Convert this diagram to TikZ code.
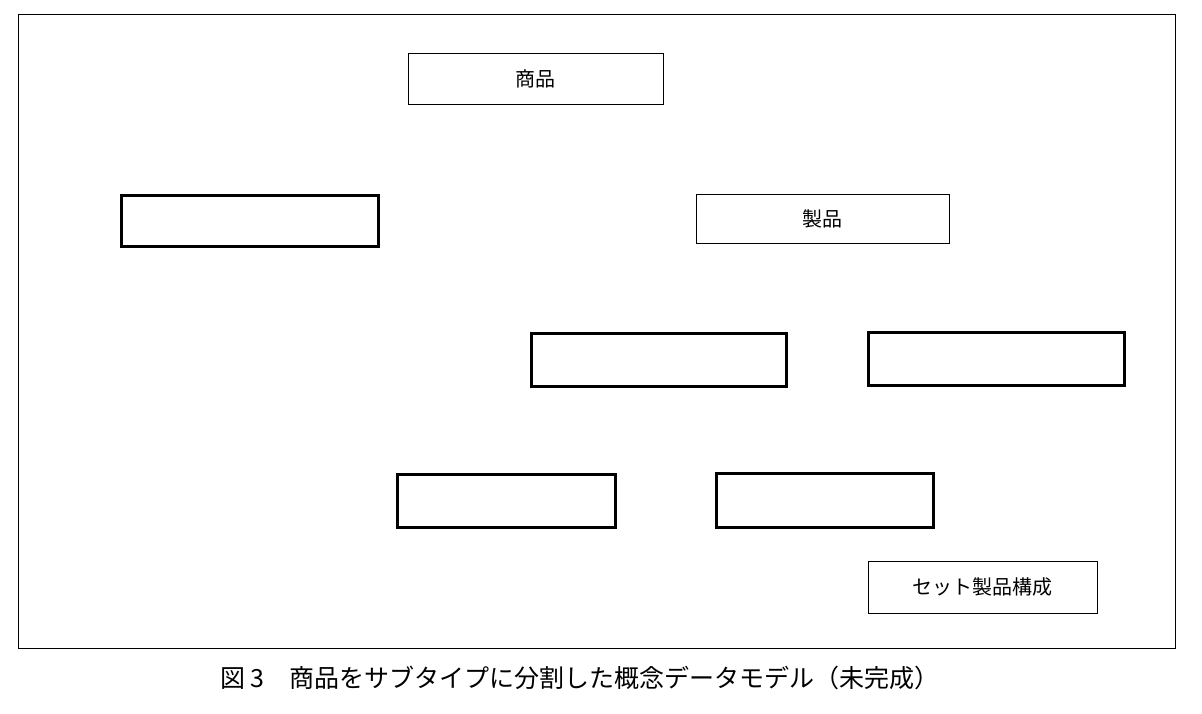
\documentclass[tikz,border=0pt]{standalone}
\usepackage{fontspec}
\newfontfamily\cjk{Noto Sans CJK JP}
\tikzset{every picture/.style={line width=0.5pt}}
\tikzset{
  namebox/.style={draw,line width=0.8pt,inner sep=0pt,anchor=north west,font=\cjk\fontsize{20}{24}\selectfont},
  blankbox/.style={draw,line width=3pt,inner sep=0pt,anchor=north west}
}
\begin{document}
\begin{tikzpicture}[x=1pt,y=-1pt]
\useasboundingbox (0,0) rectangle (1202,714);

% frame
\draw [line width=1pt] (18,15) rectangle (1175,648);

% named entities
\node [namebox,minimum width=255pt,minimum height=51pt] (shohin) at (408,53) {商品};
\node [namebox,minimum width=253pt,minimum height=49pt] (seihin) at (696,194) {製品};
\node [namebox,minimum width=229pt,minimum height=52pt] (setkosei) at (868,561) {セット製品構成};

% blank entities
\node [blankbox,minimum width=257pt,minimum height=51pt] (blankA) at (120,194) {};
\node [blankbox,minimum width=255pt,minimum height=53pt] (blankB) at (530,332) {};
\node [blankbox,minimum width=256pt,minimum height=53pt] (blankC) at (867,331) {};
\node [blankbox,minimum width=218pt,minimum height=53pt] (blankD) at (396,473) {};
\node [blankbox,minimum width=217pt,minimum height=54pt] (blankE) at (715,472) {};

% caption
\node [font=\cjk\fontsize{25}{30}\selectfont] (caption) at (580,678) {図 3\quad 商品をサブタイプに分割した概念データモデル（未完成）};
\end{tikzpicture}
\end{document}
